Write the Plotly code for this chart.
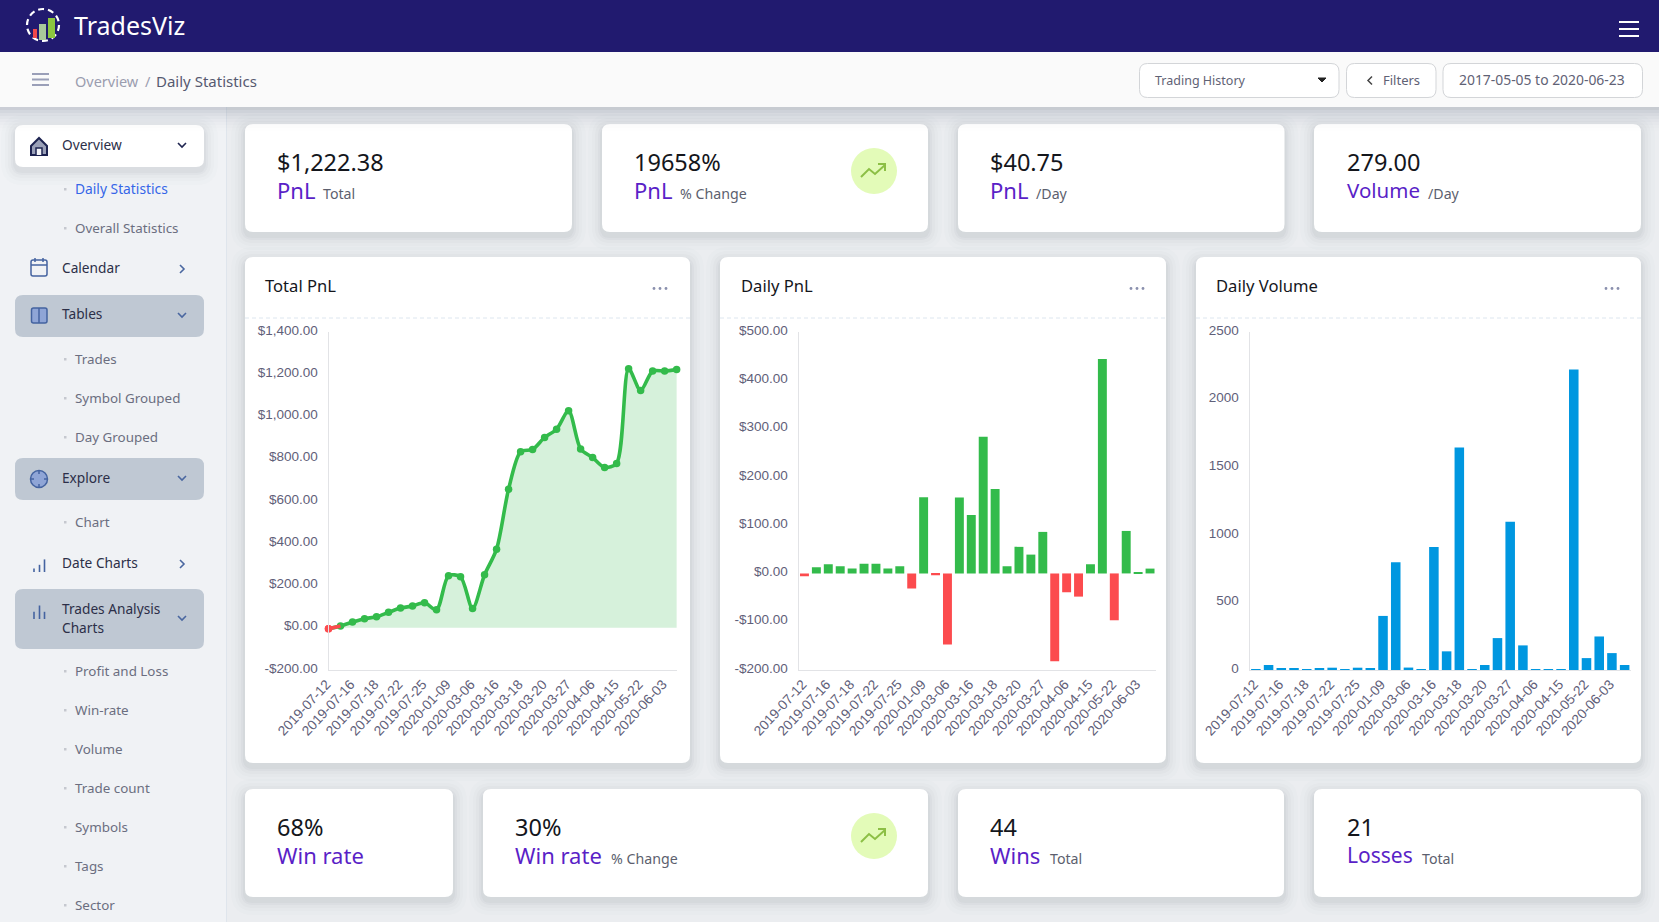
import plotly.graph_objects as go

# ---------- data ----------
tick_labels = ["2019-07-12", "2019-07-16", "2019-07-18", "2019-07-22", "2019-07-25",
               "2020-01-09", "2020-03-06", "2020-03-16", "2020-03-18", "2020-03-20",
               "2020-03-27", "2020-04-06", "2020-04-15", "2020-05-22", "2020-06-03"]
total_pnl = [-5, 8, 27, 43, 52, 73, 93, 103, 118, 85, 246, 241, 91, 251, 372,
             656, 833, 844, 901, 940, 1027, 846, 806, 759, 778, 1226, 1123, 1215, 1215, 1222]
daily_pnl = [-6, 13, 19, 15, 10, 20, 20, 10, 15, -31, 158, -4, -147, 157, 121,
             283, 175, 15, 55, 39, 86, -182, -39, -48, 19, 444, -97, 88, 1.5, 10]
daily_volume = [7, 37, 8, 8, 6, 8, 17, 6, 17, 9, 400, 797, 18, 3, 910,
                138, 1646, 3, 37, 236, 1097, 182, 2, 2, 2, 2222, 88, 248, 125, 37]
pnl_ticks = [-200, 0, 200, 400, 600, 800, 1000, 1200, 1400]
daily_ticks = [-200, -100, 0, 100, 200, 300, 400, 500]
volume_ticks = [0, 500, 1000, 1500, 2000, 2500]

W, H = 1659, 922
GREEN, RED, BLUE = "#33bb4b", "#fc4b4e", "#0097e0"
TICK = "#5f6079"
UI = "Noto Sans"
PURPLE = "#5a1fc7"
positions = list(range(len(total_pnl)))
tick_pos = positions[::2]

def money(v):
    return ("-" if v < 0 else "") + "$" + f"{abs(v):,.2f}"

def X(x): return x / W
def Y(y): return 1 - y / H

shapes, notes = [], []

def rr(x0, y0, x1, y1, r=0, fill="white", line=None, width=1, dash=None):
    p = (f"M{X(x0+r)},{Y(y0)} L{X(x1-r)},{Y(y0)} Q{X(x1)},{Y(y0)} {X(x1)},{Y(y0+r)} "
         f"L{X(x1)},{Y(y1-r)} Q{X(x1)},{Y(y1)} {X(x1-r)},{Y(y1)} "
         f"L{X(x0+r)},{Y(y1)} Q{X(x0)},{Y(y1)} {X(x0)},{Y(y1-r)} "
         f"L{X(x0)},{Y(y0+r)} Q{X(x0)},{Y(y0)} {X(x0+r)},{Y(y0)} Z")
    shapes.append(dict(type="path", path=p, xref="paper", yref="paper", layer="below",
                       fillcolor=fill, line=dict(color=line or "rgba(0,0,0,0)", width=width if line else 0)))

def poly(pts, color, width=1.5, fill=None, close=False):
    p = "M" + " L".join(f"{X(a)},{Y(b)}" for a, b in pts) + (" Z" if close else "")
    shapes.append(dict(type="path", path=p, xref="paper", yref="paper", layer="below",
                       fillcolor=fill or "rgba(0,0,0,0)", line=dict(color=color, width=width)))

def circle(cx, cy, rx, ry=None, fill="rgba(0,0,0,0)", line=None, width=1, dash=None):
    ry = ry or rx
    shapes.append(dict(type="circle", xref="paper", yref="paper", layer="below",
                       x0=X(cx-rx), x1=X(cx+rx), y0=Y(cy+ry), y1=Y(cy-ry), fillcolor=fill,
                       line=dict(color=line or "rgba(0,0,0,0)", width=width if line else 0, dash=dash)))

def text(x, y, s, size=13, color="#333", anchor="left", font=UI, v="middle"):
    notes.append(dict(x=X(x), y=Y(y), xref="paper", yref="paper", text=s, showarrow=False,
                      xanchor=anchor, yanchor=v, borderpad=0,
                      font=dict(size=size, color=color, family=font)))

def shadow(x0, y0, x1, y1, r=8):
    for g, a in ((14, .012), (10, .016), (7, .02), (4, .026), (2, .03)):
        rr(x0-g, y0-g+4, x1+g, y1+g+4, r+g, fill=f"rgba(40,50,70,{a})")

def card(x0, y0, x1, y1):
    shadow(x0, y0, x1, y1)
    rr(x0, y0, x1, y1, 8)

# ---------- page chrome ----------
rr(0, 52, W, 107, 0, "#fafafa")
rr(0, 0, W, 52, 0, "#211a6f")
rr(0, 107, 226, H, 0, "#f0f2f5")
rr(226, 107, 227, H, 0, "#dfe5ec")

# header
circle(43, 25, 16, line="white", width=2.2, dash="6px,4px")
rr(33, 29, 37, 38, 0, "#f0484a")
rr(39, 24, 46, 40, 0, "#a9c99a")
rr(48, 18, 55, 38, 0, "#8cc63f")
text(73, 25, "TradesViz", 25, "white")
for y in (22, 29, 36):
    rr(1619, y - 1, 1639, y + 1, 0, "white")

# breadcrumb bar
for y in (74, 79.5, 85):
    rr(32, y - 1, 49, y + 1, 0, "#9a9fb8")
text(74, 80.5, "Overview", 14.5, "#9a9daf")
text(144, 80.5, "/", 14.5, "#9a9daf")
text(155, 80.5, "Daily Statistics", 15, "#565970")

rr(1139.5, 63.5, 1339, 97.5, 8, "white", "#d3d5d8")
text(1154, 80, "Trading History", 12.5, "#5f6275")
poly([(1318, 78), (1326, 78), (1322, 82)], "#222", 1, "#222", True)
rr(1346.5, 63.5, 1436, 97.5, 8, "white", "#d3d5d8")
poly([(1372, 76.5), (1368, 80.5), (1372, 84.5)], "#444", 1.5)
text(1382, 80, "Filters", 13, "#5f6275")
rr(1443, 63.5, 1642.5, 97.5, 8, "white", "#d3d5d8")
text(1458, 79, "2017-05-05 to 2020-06-23", 13.9, "#5f6275")

# sidebar
shadow(15, 125, 204, 167, 8)
rr(15, 125, 204, 167, 8)
for y0, y1 in ((295, 337), (458, 500), (589, 649)):
    rr(15, y0, 204, y1, 8, "#bfc8d3")
NAV = "#2c2f48"
for s, y in (("Overview", 144), ("Calendar", 268), ("Tables", 314), ("Explore", 477),
             ("Date Charts", 562), ("Trades Analysis", 608), ("Charts", 627)):
    text(61, y, s, 13.7, NAV)
SUB = "#6b6e80"
for s, y in (("Overall Statistics", 228), ("Trades", 359), ("Symbol Grouped", 398), ("Day Grouped", 437),
             ("Chart", 522), ("Profit and Loss", 671), ("Win-rate", 710), ("Volume", 749),
             ("Trade count", 788), ("Symbols", 827), ("Tags", 866), ("Sector", 905)):
    text(74, y, s, 13.4, SUB)
    rr(64, y - 1, 66.5, y + 1.5, 0, "#c5c8cf")
text(74, 188.5, "Daily Statistics", 13.8, "#3566e8")
rr(64, 188, 66.5, 190.5, 0, "#c5c8cf")

def chev_down(y, c, x=182):
    poly([(x - 4, y - 2), (x, y + 2), (x + 4, y - 2)], c, 1.6)
def chev_right(y, c, x=182):
    poly([(x - 2, y - 4), (x + 2, y), (x - 2, y + 4)], c, 1.6)
chev_down(145, "#1f2550")
chev_right(269, "#4a67a0")
chev_down(315, "#4a67a0")
chev_down(478, "#4a67a0")
chev_right(564, "#4a67a0")
chev_down(618, "#4a67a0")

ICON = "#4463a0"
# home
poly([(31, 146), (39, 138), (47, 146), (47, 155), (31, 155)], "#1d2350", 2, "#9aa0b8", True)
poly([(36, 155), (36, 148), (42, 148), (42, 155)], "#1d2350", 1.5, "#f4f5f8")
# calendar
rr(31, 260, 47, 276, 2, "rgba(0,0,0,0)", ICON, 1.5)
poly([(31, 265), (47, 265)], ICON, 1.5)
poly([(35, 258), (35, 262)], ICON, 1.5)
poly([(43, 258), (43, 262)], ICON, 1.5)
# tables
rr(31.5, 308, 47, 323, 2, "#8fa5d6", ICON, 1.5)
poly([(39, 308), (39, 323)], ICON, 1.5)
# explore
circle(39, 479, 8.5, fill="#8fa5d6", line=ICON, width=1.5)
poly([(39, 470), (39, 474)], ICON, 1.5)
poly([(39, 484), (39, 488)], ICON, 1.5)
poly([(30, 479), (34, 479)], ICON, 1.5)
poly([(44, 479), (48, 479)], ICON, 1.5)
# bar icons
for yb, hs in ((570, (4, 8, 14)), (617, (8, 15, 8))):
    for dx, h in zip((34, 39.5, 44.5), hs):
        poly([(dx, yb + 2 - h * 0.9), (dx, yb + 2)], ICON, 1.6)

# KPI cards
def kpi(x0, y0, x1, y1, tx, value, label, sub=None, subx=None, label_size=22):
    card(x0, y0, x1, y1)
    text(tx - 1, y0 + 37.5, value, 23.5, "#14161c")
    text(tx - 1, y0 + 66, label, label_size, PURPLE)
    if sub:
        text(subx, y0 + 69, sub, 14.2, "#5c5f6e")

def trend(cx, cy):
    circle(cx, cy, 23, fill="#e3fbb8")
    poly([(cx - 13, cy + 6), (cx - 5, cy - 2), (cx + 1, cy + 3), (cx + 11, cy - 6)], "#8cbf45", 2)
    poly([(cx + 4, cy - 7), (cx + 11, cy - 7), (cx + 11, cy)], "#8cbf45", 2)

kpi(245, 124, 572, 232, 277, "$1,222.38", "PnL", "Total", 322)
kpi(602, 124, 928, 232, 634, "19658%", "PnL", "% Change", 679)
trend(874, 171)
kpi(958, 124, 1284.5, 232, 990, "$40.75", "PnL", "/Day", 1035)
kpi(1314, 124, 1641, 232, 1347, "279.00", "Volume", "/Day", 1427, label_size=20.5)
kpi(245, 789, 453, 897, 277, "68%", "Win rate")
kpi(483, 789, 928, 897, 515, "30%", "Win rate", "% Change", 610)
trend(874, 836)
kpi(958, 789, 1284, 897, 990, "44", "Wins", "Total", 1049)
kpi(1314, 789, 1641, 897, 1347, "21", "Losses", "Total", 1420.5, label_size=21)

# chart cards
for x0, x1, title, tx, dots in ((245, 690, "Total PnL", 264, 660),
                                (720, 1166, "Daily PnL", 739.5, 1137),
                                (1196, 1641, "Daily Volume", 1215, 1612)):
    card(x0, 257, x1, 763)
    text(tx, 285, title, 16.6, "#14161c")
    for d in (-6, 0, 6):
        circle(dots + d, 288.5, 1.4, fill="#8a90ae")
    shapes.append(dict(type="line", xref="paper", yref="paper", layer="below",
                       x0=X(x0), x1=X(x1), y0=Y(318), y1=Y(318),
                       line=dict(color="#dde6ef", width=1, dash="4px,3px")))

# shadow the top bar casts over the page
for i, a in enumerate((.05, .04, .03, .025, .02, .015, .01, .005)):
    rr(0, 107, W, 107 + 3 * (i + 1), 0, f"rgba(60,70,100,{a})")

# ---------- figure ----------
fig = go.Figure()

def marker_colors(vals):
    return [RED if v < 0 else GREEN for v in vals]

fig.add_trace(go.Scatter(x=positions, y=total_pnl, mode="lines+markers",
                         line=dict(color=GREEN, width=3.6, shape="spline", smoothing=0.8),
                         marker=dict(color=marker_colors(total_pnl), size=7.5),
                         fill="tozeroy", fillcolor="rgba(51,187,75,0.2)",
                         cliponaxis=False, xaxis="x", yaxis="y"))
fig.add_trace(go.Scatter(x=positions[:2], y=total_pnl[:2], mode="lines",
                         line=dict(color=RED, width=3.6), cliponaxis=False, xaxis="x", yaxis="y"))
fig.add_trace(go.Scatter(x=positions[:1], y=total_pnl[:1], mode="markers",
                         marker=dict(color=RED, size=7.5), cliponaxis=False, xaxis="x", yaxis="y"))
fig.add_trace(go.Bar(x=positions, y=daily_pnl, marker=dict(color=marker_colors(daily_pnl), line=dict(width=0)),
                     xaxis="x2", yaxis="y2"))
fig.add_trace(go.Bar(x=positions, y=daily_volume, marker=dict(color=BLUE, line=dict(width=0)),
                     xaxis="x3", yaxis="y3"))

def xaxis(left, right, rng):
    return dict(domain=[X(left), X(right)], range=rng, tickmode="array", tickvals=tick_pos, ticktext=tick_labels,
                tickangle=-47, showgrid=False, zeroline=False, showline=True, linecolor="#e2e3e6", linewidth=1,
                ticks="", automargin=False, ticklabelshift=-2,
                tickfont=dict(family="Liberation Sans", size=13.7, color=TICK))

def yaxis(rng, vals, labels, anchor):
    return dict(domain=[Y(670), Y(332)], range=rng, tickmode="array", tickvals=vals, ticktext=labels,
                showgrid=False, zeroline=False, showline=True, linecolor="#e2e3e6", linewidth=1,
                ticks="", ticklabelstandoff=7, ticklabelshift=-2, anchor=anchor, automargin=False,
                tickfont=dict(family="Liberation Sans", size=13.5, color=TICK))

fig.update_layout(
    width=W, height=H, autosize=False, margin=dict(l=0, r=0, t=0, b=0),
    showlegend=False, paper_bgcolor="#ebedf0", plot_bgcolor="rgba(0,0,0,0)",
    bargap=0.25, shapes=shapes, annotations=notes,
    xaxis=xaxis(328.5, 677, [0, 29.03]),
    yaxis=yaxis([-200, 1400], pnl_ticks, [money(v) for v in pnl_ticks], "x"),
    xaxis2=dict(**xaxis(798.5, 1156, [-0.5, 29.5]), anchor="y2"),
    yaxis2=yaxis([-200, 500], daily_ticks, [money(v) for v in daily_ticks], "x2"),
    xaxis3=dict(**xaxis(1249.5, 1631, [-0.5, 29.5]), anchor="y3"),
    yaxis3=yaxis([0, 2500], volume_ticks, [str(v) for v in volume_ticks], "x3"),
)
fig.write_html("out.html", config=dict(displayModeBar=False),
               post_script="document.body.style.margin='0';document.body.style.overflow='hidden';")
